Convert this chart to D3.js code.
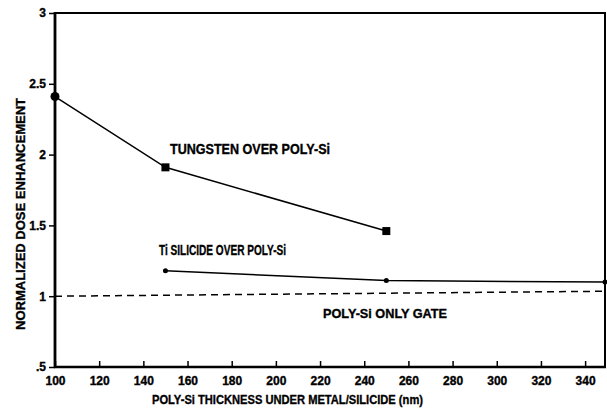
<!DOCTYPE html>
<html><head><meta charset="utf-8">
<script src="https://cdn.jsdelivr.net/npm/d3@7"></script>
<style>body{margin:0;background:#fff}svg{display:block}text{font-family:"Liberation Sans",Arial,sans-serif;font-weight:bold;fill:#000;stroke:#000;stroke-width:0.35px}</style>
</head><body>
<script>
const tungstenX = [100, 150, 250];
const tungstenY = [2.41, 1.91, 1.46];
const tiX = [150, 250, 349];
const tiY = [1.18, 1.11, 1.10];
const polyX = [100, 349];
const polyY = [1.0, 1.035];
const xTicks = [100,120,140,160,180,200,220,240,260,280,300,320,340];
const yTicks = [0.5,1,1.5,2,2.5,3];
const yTickLabels = [".5","1","1.5","2","2.5","3"];

const W=607,H=413;
const svg=d3.select("body").append("svg").attr("width",W).attr("height",H);
const x=d3.scaleLinear().domain([100,349]).range([55,605]);
const y=d3.scaleLinear().domain([0.5,3]).range([367,13]);

// frame
svg.append("rect").attr("x",55).attr("y",13).attr("width",550).attr("height",354)
  .attr("fill","none").attr("stroke","#000").attr("stroke-width",2);
svg.append("line").attr("x1",55).attr("x2",55).attr("y1",12).attr("y2",368)
  .attr("stroke","#000").attr("stroke-width",2.8);
svg.append("line").attr("x1",54).attr("x2",606).attr("y1",367).attr("y2",367)
  .attr("stroke","#000").attr("stroke-width",2.5);

// x axis
const xa=svg.append("g").attr("transform","translate(0,367)")
  .call(d3.axisBottom(x).tickValues(xTicks).tickSize(-6).tickPadding(9).tickFormat(d3.format("d")));
xa.select(".domain").remove();
xa.selectAll("line").attr("stroke-width",1.5);
xa.selectAll("text").attr("font-size",12).attr("font-family","Liberation Sans").attr("font-weight","bold");

// y axis
const ya=svg.append("g").attr("transform","translate(55,0)")
  .call(d3.axisLeft(y).tickValues(yTicks).tickSize(6).tickPadding(3).tickFormat((d,i)=>yTickLabels[i]));
ya.select(".domain").remove();
ya.selectAll("line").attr("stroke-width",1.5);
ya.selectAll("text").attr("font-size",12).attr("font-family","Liberation Sans").attr("font-weight","bold");

const line=d3.line().x(d=>x(d[0])).y(d=>y(d[1]));
const tData=tungstenX.map((v,i)=>[v,tungstenY[i]]);
const tiData=tiX.map((v,i)=>[v,tiY[i]]);
const pData=polyX.map((v,i)=>[v,polyY[i]]);

svg.append("path").datum(pData).attr("d",line).attr("fill","none").attr("stroke","#000")
  .attr("stroke-width",1.5).attr("stroke-dasharray","7,5");
svg.append("path").datum(tData).attr("d",line).attr("fill","none").attr("stroke","#000").attr("stroke-width",1.5);
svg.append("path").datum(tiData).attr("d",line).attr("fill","none").attr("stroke","#000").attr("stroke-width",1.5);

// markers
svg.append("circle").attr("cx",x(tData[0][0])).attr("cy",y(tData[0][1])).attr("r",4.5);
svg.selectAll(".sq").data(tData.slice(1)).enter().append("rect")
  .attr("x",d=>x(d[0])-4).attr("y",d=>y(d[1])-4).attr("width",8).attr("height",8);
svg.selectAll(".dot").data(tiData).enter().append("circle")
  .attr("cx",d=>x(d[0])).attr("cy",d=>y(d[1])).attr("r",2.5);

// annotations
function lab(t,x0,yb,len,fs){svg.append("text").attr("x",x0).attr("y",yb).attr("font-size",fs)
  .attr("textLength",len).attr("lengthAdjust","spacingAndGlyphs").text(t);}
lab("TUNGSTEN OVER POLY-Si",170,154,160,14);
lab("Ti SILICIDE OVER POLY-Si",159,255,127,14);
lab("POLY-Si ONLY GATE",323,318,124,13);
lab("POLY-Si THICKNESS UNDER METAL/SILICIDE (nm)",152,404,271,13);
svg.append("text").attr("transform","translate(25,214) rotate(-90)").attr("text-anchor","middle")
  .attr("font-size",12.5).attr("textLength",232).attr("lengthAdjust","spacingAndGlyphs")
  .text("NORMALIZED DOSE ENHANCEMENT");
</script>
</body></html>
